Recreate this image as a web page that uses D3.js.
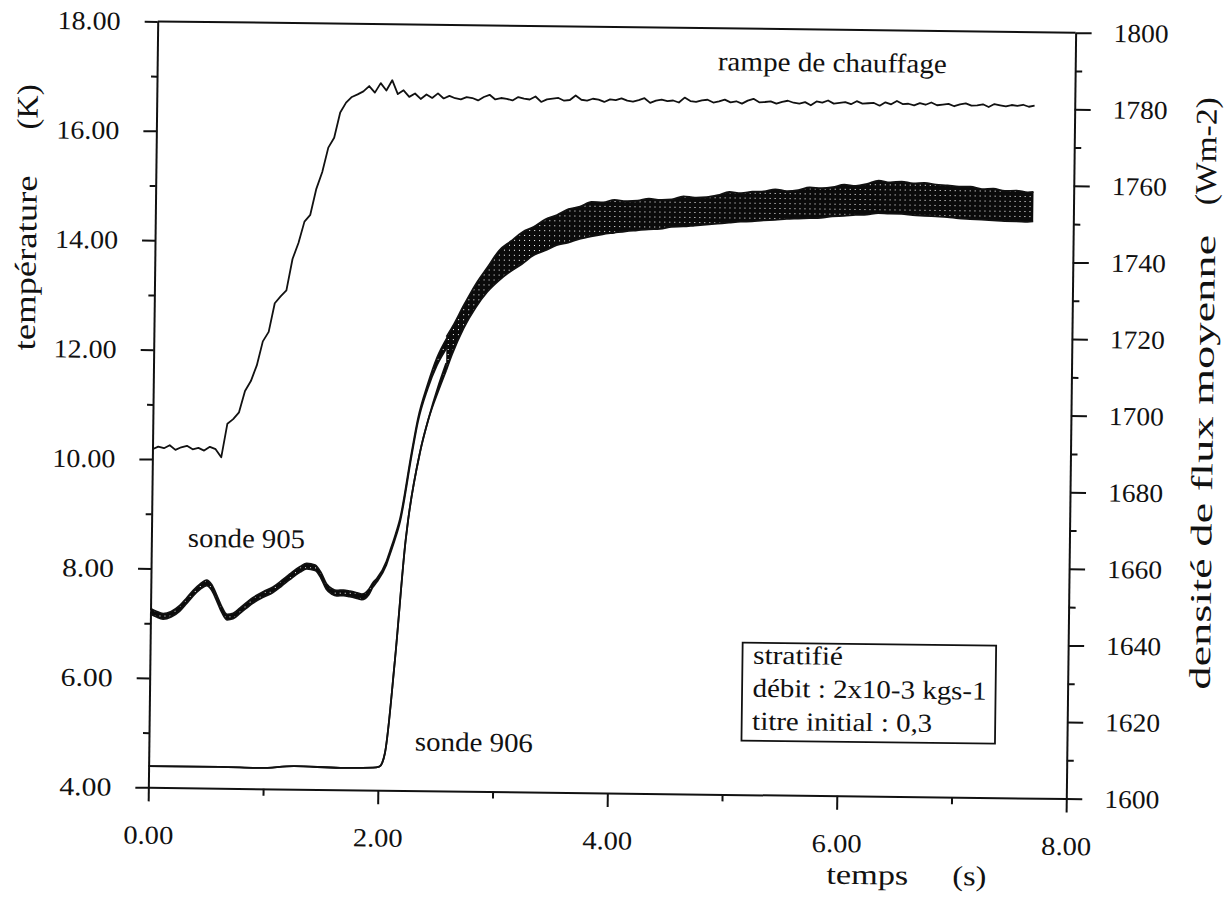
<!DOCTYPE html>
<html>
<head>
<meta charset="utf-8">
<script src="https://cdn.jsdelivr.net/npm/d3@7"></script>
<style>
  body { margin: 0; background: #fff; }
  svg text { font-family: "Liberation Serif", "Times New Roman", serif; fill: #111; }
</style>
</head>
<body>
<svg id="chart" width="1228" height="899"></svg>
<script>
// ---- axes ----
const timeDomain = [0, 8];
const tempDomain = [4, 18];
const fluxDomain = [1600, 1800];
const timeTicks = [0, 2, 4, 6, 8];
const timeMinor = [1, 3, 5, 7];
const tempTicks = [4, 6, 8, 10, 12, 14, 16, 18];
const tempMinor = [5, 7, 9, 11, 13, 15, 17];
const fluxTicks = [1600, 1620, 1640, 1660, 1680, 1700, 1720, 1740, 1760, 1780, 1800];
const fluxMinor = [1610, 1630, 1650, 1670, 1690, 1710, 1730, 1750, 1770, 1790];

// ---- heating ramp: mean flux density (Wm-2), one sample every 0.05 s ----
const rampStep = 0.05;
const rampFlux = [
  1688.3,1689.0,1688.6,1689.4,1688.2,1688.9,1689.3,1688.4,1688.8,1688.1,
  1689.1,1688.5,1686.4,1695.2,1696.4,1698.2,1703.8,1706.4,1710.5,1716.8,
  1719.3,1726.8,1728.6,1730.2,1738.4,1742.6,1748.2,1750.0,1756.8,1761.2,
  1767.6,1770.2,1776.8,1779.4,1780.9,1781.6,1782.4,1783.8,1782.1,1784.6,
  1782.7,1785.4,1781.8,1782.8,1781.1,1782.0,1780.6,1781.8,1780.9,1782.1,
  1780.8,1781.5,1780.9,1780.6,1781.2,1781.0,1780.4,1781.3,1781.9,1780.7,
  1781.1,1780.9,1780.5,1781.4,1781.0,1780.8,1781.6,1780.2,1780.9,1781.1,
  1781.3,1780.6,1780.8,1782.0,1780.9,1780.7,1781.2,1781.0,1780.4,1781.1,
  1780.9,1781.4,1780.8,1780.6,1781.0,1781.5,1780.3,1780.9,1781.2,1780.8,
  1781.0,1780.5,1781.8,1780.9,1780.7,1781.1,1781.3,1780.6,1780.9,1781.4,
  1780.7,1781.0,1780.4,1781.2,1781.7,1780.8,1780.9,1781.1,1780.5,1781.0,
  1781.3,1780.8,1780.6,1781.0,1780.2,1781.2,1780.9,1781.5,1780.7,1780.9,
  1781.1,1780.6,1781.4,1780.8,1780.9,1781.0,1780.3,1781.2,1780.7,1781.6,
  1780.8,1780.9,1780.5,1781.1,1780.7,1781.3,1780.6,1780.8,1781.0,1780.4,
  1780.9,1781.2,1780.6,1780.7,1781.0,1780.3,1781.1,1780.8,1780.5,1780.9,
  1780.7,1781.0,1780.5,1780.8
];

// ---- probe 905 before the traces merge: min / max of the signal (K) ----
const p905Time = [0.00,0.05,0.11,0.18,0.255,0.31,0.37,0.43,0.486,0.53,0.575,0.62,0.667,0.72,0.78,0.89,0.98,1.065,1.14,1.21,1.30,1.356,1.43,1.48,1.53,1.58,1.62,1.68,1.736,1.80,1.84,1.90,1.935,1.97,2.05,2.08,2.12,2.165,2.26,2.31,2.39,2.47,2.56];
const p905Low  = [7.17,7.12,7.08,7.12,7.23,7.36,7.51,7.63,7.70,7.62,7.43,7.22,7.08,7.10,7.20,7.39,7.50,7.59,7.71,7.83,7.97,8.03,8.00,7.87,7.66,7.57,7.54,7.55,7.53,7.50,7.48,7.57,7.71,7.81,8.12,8.31,8.57,8.91,10.14,10.74,11.34,11.78,12.12];
const p905High = [7.27,7.22,7.18,7.22,7.33,7.46,7.61,7.73,7.80,7.72,7.53,7.32,7.18,7.20,7.30,7.49,7.60,7.69,7.81,7.93,8.07,8.13,8.10,7.97,7.76,7.67,7.64,7.65,7.63,7.60,7.58,7.67,7.79,7.87,8.18,8.37,8.63,8.97,10.20,10.80,11.42,11.92,12.30];

// ---- probe 906 before the traces merge ----
const p906Time = [0.00,0.62,0.97,1.27,1.67,1.955,2.01,2.035,2.058,2.135,2.216,2.235,2.33,2.40,2.49,2.55];
const p906Low  = [4.39,4.39,4.38,4.42,4.40,4.41,4.43,4.50,4.68,6.38,8.58,8.94,10.17,10.78,11.34,11.68];
const p906High = [4.39,4.39,4.38,4.42,4.40,4.41,4.43,4.50,4.68,6.38,8.58,8.94,10.17,10.78,11.44,11.82];

// ---- both probes once merged: lower envelope (906) and upper envelope (905) ----
const bandTime = [2.55,2.6,2.7,2.8,2.9,3.0,3.1,3.2,3.3,3.4,3.5,3.6,3.7,3.8,3.9,4.0,4.1,4.2,4.3,4.4,4.5,4.6,4.7,4.8,4.9,5.0,5.1,5.2,5.3,5.4,5.5,5.6,5.7,5.8,5.9,6.0,6.1,6.2,6.3,6.4,6.5,6.6,6.7,6.8,6.9,7.0,7.1,7.2,7.3,7.4,7.5,7.6,7.65];
const bandLow  = [11.68,11.98,12.47,12.84,13.13,13.34,13.51,13.65,13.81,13.90,14.00,14.05,14.12,14.17,14.21,14.24,14.27,14.29,14.31,14.32,14.36,14.37,14.39,14.41,14.43,14.45,14.47,14.48,14.50,14.51,14.53,14.54,14.55,14.56,14.59,14.60,14.62,14.63,14.66,14.65,14.65,14.63,14.62,14.61,14.60,14.58,14.57,14.56,14.55,14.54,14.54,14.53,14.54];
const bandHigh = [12.30,12.48,12.89,13.27,13.58,13.89,14.06,14.23,14.33,14.47,14.55,14.66,14.71,14.80,14.79,14.84,14.82,14.83,14.87,14.85,14.86,14.92,14.90,14.91,14.95,15.01,14.99,15.02,15.03,15.07,15.04,15.06,15.11,15.10,15.12,15.17,15.15,15.19,15.25,15.22,15.24,15.21,15.22,15.19,15.18,15.16,15.16,15.12,15.13,15.09,15.10,15.07,15.08];

const legendLines = ["stratifié", "débit : 2x10-3 kgs-1", "titre initial : 0,3"];

// ---- layout ----
const frame = { left: 153, right: 1071, top: 27, bottom: 793 };
const tilt = 0.7;            // the plate sits slightly turned on the page
const ink = "#111";
const serif = "'Liberation Serif', 'Times New Roman', serif";

const svg = d3.select("#chart");
const defs = svg.append("defs");
const pat = defs.append("pattern").attr("id", "speckle")
  .attr("width", 5).attr("height", 5).attr("patternUnits", "userSpaceOnUse");
pat.append("rect").attr("width", 5).attr("height", 5).attr("fill", "#0b0b0b");
pat.append("rect").attr("x", 2).attr("y", 1).attr("width", 1).attr("height", 1).attr("fill", "#fff");

const g = svg.append("g").attr("transform", `rotate(${tilt},612,410)`);

const x = d3.scaleLinear().domain(timeDomain).range([frame.left, frame.right]);
const yT = d3.scaleLinear().domain(tempDomain).range([frame.bottom, frame.top]);
const yF = d3.scaleLinear().domain(fluxDomain).range([frame.bottom, frame.top]);
const fmt2 = d3.format(".2f");

// tick labels are set wide, so each one is given its printed width
function styleAxis(sel, widthOf) {
  sel.selectAll("path.domain").attr("stroke", ink).attr("stroke-width", 2);
  sel.selectAll(".tick line").attr("stroke", ink).attr("stroke-width", 2);
  const t = sel.selectAll(".tick text").attr("font-size", 26).attr("fill", ink)
     .attr("font-family", serif);
  if (widthOf) t.attr("textLength", d => widthOf(d)).attr("lengthAdjust", "spacingAndGlyphs");
}

// bottom axis
g.append("g").attr("transform", `translate(0,${frame.bottom})`)
  .call(d3.axisBottom(x).tickValues(timeTicks).tickFormat(fmt2).tickSize(14).tickSizeOuter(0).tickPadding(24))
  .call(styleAxis, () => 50);
g.append("g").attr("transform", `translate(0,${frame.bottom})`)
  .call(d3.axisBottom(x).tickValues(timeMinor).tickFormat("").tickSize(7).tickSizeOuter(0))
  .call(styleAxis).select("path.domain").remove();

// left axis (temperature)
g.append("g").attr("transform", `translate(${frame.left},0)`)
  .call(d3.axisLeft(yT).tickValues(tempTicks).tickFormat(fmt2).tickSize(13).tickSizeOuter(0).tickPadding(24))
  .call(styleAxis, d => (d >= 10 ? 63 : 52));
g.append("g").attr("transform", `translate(${frame.left},0)`)
  .call(d3.axisLeft(yT).tickValues(tempMinor).tickFormat("").tickSize(6).tickSizeOuter(0))
  .call(styleAxis).select("path.domain").remove();

// right axis (flux density)
g.append("g").attr("transform", `translate(${frame.right},0)`)
  .call(d3.axisRight(yF).tickValues(fluxTicks).tickFormat(d3.format("d")).tickSize(16).tickSizeOuter(0).tickPadding(22))
  .call(styleAxis, () => 55);
g.append("g").attr("transform", `translate(${frame.right},0)`)
  .call(d3.axisRight(yF).tickValues(fluxMinor).tickFormat("").tickSize(7).tickSizeOuter(0))
  .call(styleAxis).select("path.domain").remove();

// top frame line
g.append("line")
  .attr("x1", frame.left).attr("x2", frame.right)
  .attr("y1", frame.top).attr("y2", frame.top)
  .attr("stroke", ink).attr("stroke-width", 2);

// ---- probe traces: envelope filled, edges stroked ----
const traces = [
  { time: p906Time, lo: p906Low, hi: p906High },
  { time: p905Time, lo: p905Low, hi: p905High },
  { time: bandTime, lo: bandLow, hi: bandHigh }
].map(p => p.time.map((t, i) => ({ t, lo: p.lo[i], hi: p.hi[i] })));

const area = d3.area().curve(d3.curveMonotoneX)
  .x(d => x(d.t)).y0(d => yT(d.lo)).y1(d => yT(d.hi));
traces.forEach(pts => {
  g.append("path").datum(pts).attr("d", area).attr("fill", "url(#speckle)").attr("stroke", "none");
});
traces.forEach(pts => {
  ["lo", "hi"].forEach(k => {
    g.append("path").datum(pts)
      .attr("d", d3.line().curve(d3.curveMonotoneX).x(d => x(d.t)).y(d => yT(d[k])))
      .attr("fill", "none").attr("stroke", ink).attr("stroke-width", 1.8)
      .attr("stroke-linejoin", "round");
  });
});

// ---- heating ramp ----
const rampPts = rampFlux.map((v, i) => [i * rampStep, v]);
g.append("path").datum(rampPts)
  .attr("d", d3.line().x(d => x(d[0])).y(d => yF(d[1])))
  .attr("fill", "none").attr("stroke", ink).attr("stroke-width", 1.8).attr("stroke-linejoin", "round");

// ---- annotations ----
function label(txt, px, py, size, width, anchor) {
  const t = g.append("text").attr("x", px).attr("y", py)
    .attr("font-size", size).attr("text-anchor", anchor || "middle").text(txt);
  if (width) t.attr("textLength", width).attr("lengthAdjust", "spacingAndGlyphs");
  return t;
}
label("rampe de chauffage", 828, 69, 27, 229);
label("sonde 905", 248, 552, 27, 117);
label("sonde 906", 478, 753, 27, 118);

// legend box
g.append("rect").attr("x", 745.5).attr("y", 641).attr("width", 253.5).attr("height", 98)
  .attr("fill", "#fff").attr("stroke", ink).attr("stroke-width", 1.8);
const legendWidths = [90, 234, 180];
legendLines.forEach((s, i) => label(s, 756, 662 + i * 33, 26, legendWidths[i], "start"));

// axis titles
label("temps", 873, 881, 28, 82);
label("(s)", 975, 881, 28, 34);
function vlabel(txt, px, py, size, width) {
  const t = g.append("text").attr("transform", `translate(${px},${py}) rotate(-90)`)
    .attr("font-size", size).attr("text-anchor", "middle").text(txt);
  if (width) t.attr("textLength", width).attr("lengthAdjust", "spacingAndGlyphs");
  return t;
}
vlabel("température", 34, 270, 30, 175);
vlabel("(K)", 34, 114, 30, 45);
vlabel("densité de flux moyenne", 1213, 455, 30, 455);
vlabel("(Wm-2)", 1213, 144, 30, 108);
</script>
</body>
</html>
